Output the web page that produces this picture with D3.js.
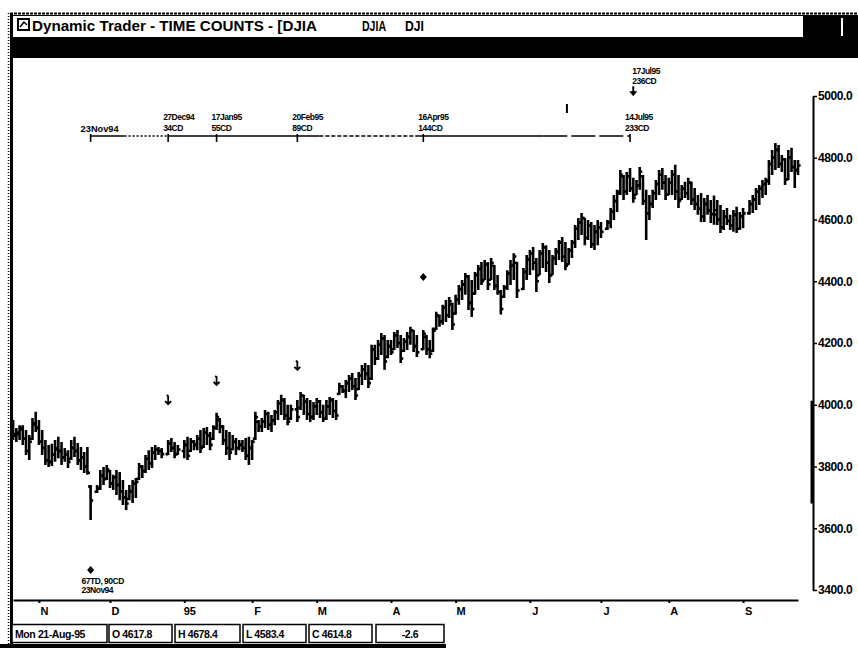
<!DOCTYPE html>
<html><head><meta charset="utf-8">
<script src="https://cdn.jsdelivr.net/npm/d3@7"></script>
<style>
html,body{margin:0;padding:0;background:#fff;overflow:hidden;}
svg{display:block;}
text{font-family:"Liberation Sans",Arial,sans-serif;font-weight:bold;fill:#000;}
</style></head><body>
<svg id="chart" width="858" height="648"></svg>
<script>
// ---------------- DATA ----------------
const startDate = "1994-10-20";
const endDate = "1995-09-26";
const holidays = ["1994-11-24","1994-12-26","1995-01-02","1995-02-20","1995-04-14","1995-05-29","1995-07-04","1995-09-04"];

const highs = [
3951,3925,3934,3934,3918,3902,3957,3977,3951,3918,3886,3870,
3874,
3886,3896,3879,3860,3853,3886,3896,3876,3863,3847,3863,3740,
3740,3789,3798,3805,3789,3773,3789,3782,3756,3724,3740,3756,3763,3811,3805,3837,3853,3863,3870,3863,3860,3886,3892,3879,3870,
3886,3896,3892,3886,3902,3918,3925,3928,3912,3934,
3974,3957,3934,3918,3912,3902,3892,3886,3886,3892,
3896,3886,3977,3951,3957,3983,3977,3967,3983,4015,
4032,4022,4000,4000,4015,4041,4032,4022,4015,4009,
4022,4015,4000,4015,4025,4022,4015,4071,4064,4080,
4096,4103,4087,4106,4129,4135,4129,4194,4194,4210,
4232,4226,4210,4210,4236,4242,4226,4216,4236,4253,
4242,4226,4242,4226,4210,4250,4301,4292,4324,4339,
4349,4330,4356,4388,4404,4427,4420,4404,4430,4453,
4462,4469,4462,4475,4453,4420,4372,4388,4436,4469,
4491,4462,4443,4485,4501,4511,4475,4501,4524,4517,
4501,4485,4508,4534,4543,4527,4508,4534,4582,4605,
4621,4605,4598,4592,4582,4598,4592,4598,4637,4679,
4696,4760,4744,4754,4767,4735,4728,4770,4744,4696,
4679,4696,4728,4760,4767,4744,4735,4760,4777,4744,
4712,4722,4735,4722,4702,4679,4686,4670,4679,4663,
4678,4663,4647,4631,4637,4615,4631,4641,4624,4637,
4663,4679,4702,4712,4728,4735,4793,4825,4848,4841,
4809,4799,4825,4832,4793,4793];

const lows = [
3886,3879,3886,3870,3837,3821,3886,3912,3870,3837,3805,3798,
3802,
3815,3827,3805,3815,3795,3821,3831,3805,3789,3779,3773,3627,
3714,3724,3740,3756,3730,3724,3708,3691,3675,3659,3691,3682,3698,3756,3763,3779,3789,3795,3821,3837,3827,3837,3847,3827,3837,
3827,3821,3847,3853,3853,3844,3860,3870,3853,3886,
3918,3908,3870,3837,3821,3853,3837,3853,3847,3821,
3805,3821,3886,3912,3912,3925,3918,3912,3934,3951,
3967,3951,3934,3951,3944,3983,3967,3951,3944,3951,
3967,3957,3944,3951,3967,3957,3951,4032,4038,4022,
4041,4048,4015,4048,4064,4080,4054,4080,4129,4145,
4161,4113,4151,4161,4177,4184,4135,4171,4177,4194,
4171,4155,4177,4161,4151,4171,4242,4253,4259,4268,
4281,4242,4292,4324,4339,4356,4307,4284,4356,4372,
4388,4404,4372,4404,4372,4356,4292,4346,4372,4388,
4404,4346,4372,4404,4420,4436,4365,4420,4443,4430,
4394,4420,4453,4469,4462,4436,4453,4475,4508,4534,
4550,4517,4534,4508,4501,4517,4540,4566,4572,4598,
4624,4679,4663,4679,4689,4654,4679,4696,4647,4534,
4598,4637,4663,4679,4696,4663,4679,4679,4663,4637,
4663,4670,4663,4647,4631,4615,4592,4592,4615,4589,
4583,4582,4556,4566,4582,4566,4560,4556,4566,4572,
4615,4621,4631,4647,4670,4679,4712,4744,4760,4767,
4754,4712,4728,4754,4702,4744];

const opens = [
3920,3900,3905,3920,3890,3850,3890,3935,3925,3880,3860,3820,
3815,
3838,3855,3850,3830,3840,3825,3860,3850,3820,3830,3800,3735,
3718,3730,3770,3760,3785,3745,3765,3740,3720,3700,3695,3720,3745,3760,3800,3785,3825,3810,3845,3855,3850,3840,3875,3860,3840,
3850,3870,3850,3880,3870,3890,3865,3910,3900,3890,
3925,3950,3930,3885,3860,3855,3880,3860,3870,3860,
3835,3860,3890,3945,3930,3945,3970,3935,3950,3975,
4005,4015,3965,3955,3985,3990,4030,4010,3970,3960,
3995,4010,3975,3955,3995,4015,3980,4035,4060,4045,
4070,4085,4060,4050,4095,4115,4100,4085,4180,4150,
4195,4215,4155,4190,4180,4225,4200,4175,4205,4220,
4240,4190,4180,4220,4180,4175,4245,4288,4270,4315,
4290,4325,4295,4340,4375,4390,4415,4330,4360,4420,
4440,4405,4455,4405,4450,4385,4365,4350,4380,4425,
4450,4460,4375,4430,4470,4490,4460,4420,4490,4510,
4460,4420,4475,4495,4525,4480,4455,4500,4525,4570,
4590,4605,4540,4580,4520,4560,4575,4570,4590,4625,
4660,4690,4740,4690,4740,4700,4680,4710,4740,4660,
4620,4650,4685,4715,4745,4720,4680,4720,4745,4690,
4665,4700,4685,4720,4665,4650,4635,4610,4650,4630,
4618,4630,4600,4575,4610,4595,4580,4615,4570,4610,
4620,4650,4665,4690,4700,4715,4725,4780,4800,4825,
4780,4795,4730,4800,4770,4760];

const closes = [
3905,3910,3925,3890,3850,3880,3940,3925,3880,3860,3820,3815,
3838,
3860,3850,3830,3840,3815,3860,3850,3820,3830,3800,3780,3690,
3730,3770,3760,3790,3745,3765,3740,3720,3700,3680,3720,3745,3750,3800,3785,3825,3810,3845,3855,3850,3840,3875,3860,3840,3855,
3870,3835,3880,3870,3890,3860,3910,3900,3870,3925,
3960,3930,3885,3860,3845,3880,3860,3870,3860,3835,
3860,3880,3960,3930,3945,3970,3935,3950,3975,4005,
4015,3965,3945,3985,3960,4030,4010,3970,3960,3995,
4010,3975,3955,3995,4015,3980,3965,4060,4045,4070,
4085,4060,4030,4095,4115,4100,4070,4180,4150,4195,
4215,4140,4190,4170,4225,4200,4150,4205,4220,4240,
4190,4170,4230,4180,4165,4240,4290,4270,4315,4290,
4335,4260,4340,4375,4390,4415,4330,4310,4420,4440,
4400,4455,4390,4460,4385,4365,4310,4380,4425,4450,
4480,4370,4430,4470,4490,4460,4400,4490,4510,4460,
4420,4475,4495,4525,4480,4450,4500,4525,4570,4590,
4605,4540,4580,4520,4560,4575,4560,4590,4625,4660,
4685,4745,4690,4740,4700,4670,4710,4755,4660,4620,
4650,4685,4715,4745,4720,4680,4720,4745,4690,4660,
4700,4685,4720,4665,4650,4635,4610,4650,4630,4617,
4615,4600,4575,4610,4595,4580,4615,4570,4610,4620,
4650,4665,4690,4700,4715,4725,4780,4800,4825,4780,
4795,4730,4800,4770,4760,4775];

const monthStarts = ["1994-11-01","1994-12-01","1995-01-03","1995-02-01","1995-03-01","1995-04-03","1995-05-01","1995-06-01","1995-07-03","1995-08-01","1995-09-01"];
const monthLabels = ["N","D","95","F","M","A","M","J","J","A","S"];
const yTicks = [3400,3600,3800,4000,4200,4400,4600,4800,5000];

const countOrigin = "1994-11-23";
const countOriginLabel = "23Nov94";
const countDates = ["1994-12-27","1995-01-17","1995-02-21","1995-04-17","1995-07-14"];
const countDateLabels = ["27Dec94","17Jan95","20Feb95","16Apr95","14Jul95"];
const countValues = ["34CD","55CD","89CD","144CD","233CD"];

const markerDates = ["1994-12-27","1995-01-17","1995-02-21","1995-04-17","1994-11-23","1995-07-17"];
const markerValues = [4015,4077,4126,4414,3465,5015];
const markerKinds = ["arrow","arrow","arrow","diamond","diamond","arrowFill"];

const topCountDate = "1995-07-17";
const topCountLabels = ["17Jul95","236CD"];
const lowCountLabels = ["67TD, 90CD","23Nov94"];
const tickMarkDate = "1995-06-16";

const titleText = "Dynamic Trader - TIME COUNTS - [DJIA";
const statusTexts = ["Mon 21-Aug-95","O 4617.8","H 4678.4","L 4583.4","C 4614.8","-2.6"];

// ---------------- DRAW ----------------
const svg = d3.select("#chart");
const parse = d3.utcParse("%Y-%m-%d");
const fmt = d3.utcFormat("%Y-%m-%d");
const allDays = d3.utcDays(parse(startDate), d3.utcDay.offset(parse(endDate), 1))
  .filter(d => d.getUTCDay() !== 0 && d.getUTCDay() !== 6);
const slot = new Map(allDays.map((d, i) => [fmt(d), i]));
const tradingDays = allDays.filter(d => !holidays.includes(fmt(d)));
const bars = tradingDays.slice(0, highs.length).map((d, i) => ({
  w: slot.get(fmt(d)), o: opens[i], h: highs[i], l: lows[i], c: closes[i]
}));

const x = d3.scaleLinear().domain([0, allDays.length - 1]).range([13.1, 13.1 + 3.23 * (allDays.length - 1)]);
const y = d3.scaleLinear().domain([3400, 5000]).range([590, 96]);
const xs = s => x(slot.get(s));

// window chrome
svg.append("rect").attr("x", 0).attr("y", 0).attr("width", 858).attr("height", 648).attr("fill", "#fff");
svg.append("line").attr("x1", 10).attr("x2", 858).attr("y1", 13.5).attr("y2", 13.5)
  .attr("stroke", "#000").attr("stroke-width", 2).attr("stroke-dasharray", "3,1");
svg.append("line").attr("x1", 12).attr("x2", 858).attr("y1", 15.5).attr("y2", 15.5)
  .attr("stroke", "#000").attr("stroke-width", 1);
svg.append("rect").attr("x", 12).attr("y", 37).attr("width", 846).attr("height", 21).attr("fill", "#000");
svg.append("line").attr("x1", 11.5).attr("x2", 11.5).attr("y1", 13).attr("y2", 648)
  .attr("stroke", "#000").attr("stroke-width", 3);
svg.append("line").attr("x1", 8.5).attr("x2", 8.5).attr("y1", 13).attr("y2", 648)
  .attr("stroke", "#000").attr("stroke-width", 1.5).attr("stroke-dasharray", "1,2");

// title icon + text
svg.append("rect").attr("x", 18).attr("y", 19).attr("width", 11).attr("height", 11)
  .attr("fill", "none").attr("stroke", "#000").attr("stroke-width", 2);
svg.append("path").attr("d", "M20,27 L24,22 L27,25").attr("fill", "none").attr("stroke", "#000").attr("stroke-width", 1.5);
svg.append("text").attr("x", 32).attr("y", 31).attr("font-size", 15)
  .attr("textLength", 285).attr("lengthAdjust", "spacingAndGlyphs").text(titleText);
svg.append("text").attr("x", 362).attr("y", 31).attr("font-size", 15)
  .attr("textLength", 24).attr("lengthAdjust", "spacingAndGlyphs").text("DJIA");
svg.append("text").attr("x", 405).attr("y", 31).attr("font-size", 15)
  .attr("textLength", 19).attr("lengthAdjust", "spacingAndGlyphs").text("DJI");

// Y axis
const yAxis = d3.axisRight(y).tickValues(yTicks).tickSize(4).tickSizeOuter(0).tickPadding(1)
  .tickFormat(d3.format(".1f"));
const gy = svg.append("g").attr("transform", "translate(813,0)").call(yAxis);
gy.select(".domain").attr("stroke-width", 2);
gy.selectAll(".tick line").attr("stroke-width", 1.5);
gy.selectAll("text").attr("font-size", 12).attr("font-family", "Liberation Sans, Arial, sans-serif")
  .attr("font-weight", "bold").attr("letter-spacing", "-0.4");
svg.append("rect").attr("x", 810.5).attr("y", y(4000) - 4).attr("width", 3.5)
  .attr("height", y(3680) - y(4000) + 4).attr("fill", "#000");

// X axis
const xAxis = d3.axisBottom(x).tickValues(monthStarts.map(s => slot.get(s)))
  .tickFormat((d, i) => monthLabels[i]).tickSize(3).tickSizeOuter(0).tickPadding(4);
const gx = svg.append("g").attr("transform", "translate(0,600)").call(xAxis);
gx.select(".domain").attr("stroke-width", 2.2);
gx.selectAll(".tick line").attr("stroke-width", 2);
gx.selectAll("text").attr("font-size", 11).attr("font-family", "Liberation Sans, Arial, sans-serif")
  .attr("font-weight", "bold").attr("dx", 5);

// OHLC bars
svg.append("g").selectAll("path").data(bars).join("path")
  .attr("d", d => {
    const cx = x(d.w);
    return `M${cx},${y(d.h)}V${y(d.l)}M${cx - 2.6},${y(d.o)}H${cx}M${cx},${y(d.c)}H${cx + 2.6}`;
  })
  .attr("stroke", "#000").attr("stroke-width", 2.6).attr("fill", "none");

// Time count line
const rowY = 136;
const x0 = xs(countOrigin);
const xc = countDates.map(xs);
const segs = [
  [x0, x0 + 34, null], [x0 + 34, xc[0], "2,2"], [xc[0], xc[2] + 22, null],
  [xc[2] + 22, xc[3] - 4, "4,2"], [xc[3] - 4, xc[3] + 120, null], [xc[3] + 120, xc[4], "24,4"]
];
svg.append("g").selectAll("line").data(segs).join("line")
  .attr("x1", d => d[0]).attr("x2", d => d[1]).attr("y1", rowY).attr("y2", rowY)
  .attr("stroke", "#000").attr("stroke-width", 1.6).attr("stroke-dasharray", d => d[2]);
svg.append("g").selectAll("line").data([x0, ...xc]).join("line")
  .attr("x1", d => d).attr("x2", d => d).attr("y1", rowY - 2).attr("y2", rowY + 6)
  .attr("stroke", "#000").attr("stroke-width", 1.6);
svg.append("text").attr("x", x0 - 10).attr("y", rowY - 4).attr("font-size", 8.5)
  .attr("textLength", 38).attr("lengthAdjust", "spacingAndGlyphs").text(countOriginLabel);
const cg = svg.append("g").selectAll("g").data(countDates).join("g")
  .attr("transform", (d, i) => `translate(${xc[i] - 5},0)`);
cg.append("text").attr("y", rowY - 16).attr("font-size", 8.5).attr("letter-spacing", "-0.5")
  .text((d, i) => countDateLabels[i]);
cg.append("text").attr("y", rowY - 5).attr("font-size", 8.5).attr("letter-spacing", "-0.5")
  .text((d, i) => countValues[i]);

// top count label
const xt = xs(topCountDate);
svg.append("g").selectAll("text").data(topCountLabels).join("text")
  .attr("x", xt - 1).attr("y", (d, i) => 74 + i * 10).attr("font-size", 8.5).attr("letter-spacing", "-0.5")
  .text(d => d);
// low count label
const xl = xs(countOrigin);
svg.append("g").selectAll("text").data(lowCountLabels).join("text")
  .attr("x", xl - 9).attr("y", (d, i) => 584 + i * 9).attr("font-size", 8.5).attr("letter-spacing", "-0.5")
  .text(d => d);
// small tick mark
svg.append("line").attr("x1", xs(tickMarkDate) + 1.5).attr("x2", xs(tickMarkDate) + 1.5)
  .attr("y1", 104).attr("y2", 113).attr("stroke", "#000").attr("stroke-width", 2);

// markers
const mk = markerDates.map((d, i) => ({ x: xs(d), y: y(markerValues[i]), k: markerKinds[i] }));
const mg = svg.append("g").selectAll("g").data(mk).join("g")
  .attr("transform", d => `translate(${d.x},${d.y})`);
mg.filter(d => d.k === "arrow").append("path")
  .attr("d", "M-1.5,-5 L0,-4 L0,4 M-3,1 L0,4 L3,1")
  .attr("stroke", "#000").attr("stroke-width", 1.8).attr("fill", "none");
mg.filter(d => d.k === "diamond").append("path")
  .attr("d", "M0,-4 L3.5,0 L0,4 L-3.5,0 Z").attr("fill", "#000");
mg.filter(d => d.k === "arrowFill").append("path")
  .attr("d", "M-1,-5 L1,-5 L1,0 L4,0 L0,5 L-4,0 L-1,0 Z").attr("fill", "#000");

// status bar
const boxes = [[12, 95], [109, 63], [175, 65], [243, 63], [309, 63], [376, 68]];
const sb = svg.append("g").selectAll("g").data(statusTexts).join("g");
sb.append("rect").attr("x", (d, i) => boxes[i][0]).attr("y", 624.5).attr("width", (d, i) => boxes[i][1])
  .attr("height", 18).attr("fill", "#fff").attr("stroke", "#000").attr("stroke-width", 1.5);
sb.append("text").attr("x", (d, i) => i === 5 ? boxes[i][0] + boxes[i][1] / 2 : boxes[i][0] + 3)
  .attr("text-anchor", (d, i) => i === 5 ? "middle" : "start")
  .attr("y", 638).attr("font-size", 10.5).attr("letter-spacing", "-0.4").text(d => d);
svg.append("rect").attr("x", 0).attr("y", 644).attr("width", 446).attr("height", 4).attr("fill", "#000");

// window buttons block (top right), drawn last
svg.append("rect").attr("x", 803).attr("y", 16).attr("width", 55).attr("height", 22)
  .style("fill", "#000").style("stroke", "none");
svg.append("rect").attr("x", 841).attr("y", 18).attr("width", 2).attr("height", 18)
  .style("fill", "#fff");
</script>
</body></html>
